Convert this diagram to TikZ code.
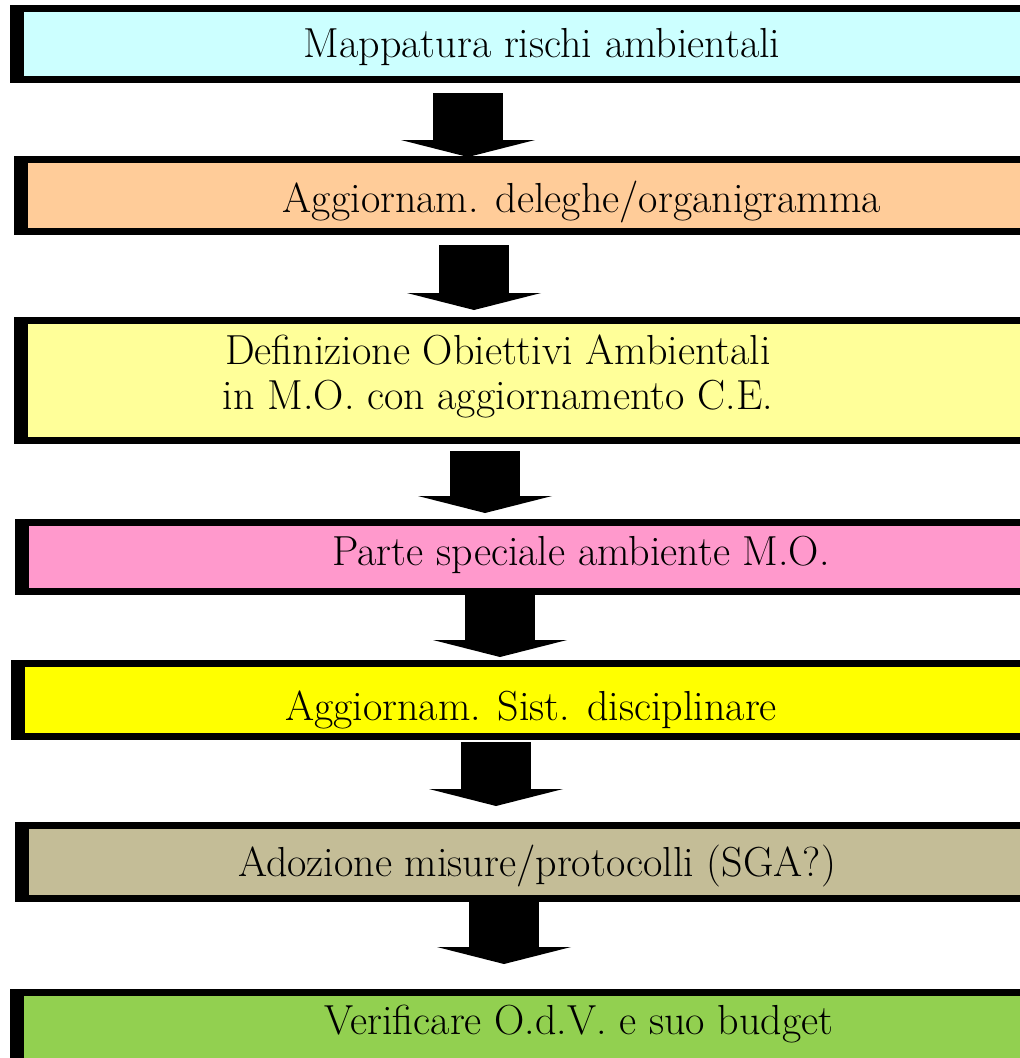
\documentclass[tikz,border=0pt]{standalone}
\usepackage{tikz}
\usetikzlibrary{positioning,arrows.meta,calc}
\definecolor{mapcol}{HTML}{CCFFFF}
\definecolor{delcol}{HTML}{FFCC99}
\definecolor{objcol}{HTML}{FFFF99}
\definecolor{parcol}{HTML}{FF99CC}
\definecolor{discol}{HTML}{FFFF00}
\definecolor{adocol}{HTML}{C4BD97}
\definecolor{vercol}{HTML}{92D050}
\tikzset{
  stage/.style ={rectangle, draw=black, line width=7pt, outer sep=0pt,
                 inner sep=0pt, anchor=north west, minimum width=1030pt,
                 path picture={\fill[black] (path picture bounding box.south west)
                   rectangle ([xshift=10.5pt]path picture bounding box.north west);}},
  lbl/.style   ={anchor=base, align=center, font=\fontsize{42}{45}\selectfont},
  fat/.style   ={-{Triangle[length=17pt, width=134pt, line width=0pt]},
                 line width=70pt, draw=black},
}

\begin{document}
\begin{tikzpicture}[x=1pt, y=-1pt]
  \useasboundingbox[fill=white] (0,0) rectangle (1020,1058);

  % stage boxes
  \node[stage, fill=mapcol, minimum height=71pt]   (b1) at (13.5,8.5) {};
  \node[stage, fill=delcol, minimum height=72.3pt] (b2) at (17.5,159.2) {};
  \node[stage, fill=objcol, minimum height=120pt]  (b3) at (17.5,320.5) {};
  \node[stage, fill=parcol, minimum height=69pt]   (b4) at (18,522.5) {};
  \node[stage, fill=discol, minimum height=73pt]   (b5) at (14.2,663.5) {};
  \node[stage, fill=adocol, minimum height=73pt]   (b6) at (18,825.5) {};
  \node[stage, fill=vercol, minimum height=100pt]  (b7) at (13.5,992.5) {};

  % texts
  \node[lbl] (t1) at (542,57)   {Mappatura rischi ambientali};
  \node[lbl] (t2) at (582,212)  {Aggiornam. deleghe/organigramma};
  \node[lbl] (t3) at (498,409)  {Definizione Obiettivi Ambientali\\in M.O. con aggiornamento C.E.};
  \node[lbl] (t4) at (581,565)  {Parte speciale ambiente M.O.};
  \node[lbl] (t5) at (531,720)  {Aggiornam. Sist. disciplinare};
  \node[lbl] (t6) at (537,876)  {Adozione misure/protocolli (SGA?)};
  \node[lbl] (t7) at (579,1034) {Verificare O.d.V. e suo budget};

  % block arrows
  \draw[fat, shorten <=13.5pt, shorten >=2.2pt]  (b1.south -| 468,0) -- (b2.north -| 468,0);
  \draw[fat, shorten <=13.5pt, shorten >=10.5pt] (b2.south -| 474,0) -- (b3.north -| 474,0);
  \draw[fat, shorten <=10.5pt, shorten >=9.5pt]  (b3.south -| 485,0) -- (b4.north -| 485,0);
  \draw[fat, shorten <=3.5pt, shorten >=6.5pt]   (b4.south -| 500,0) -- (b5.north -| 500,0);
  \draw[fat, shorten <=5.5pt, shorten >=19.5pt]  (b5.south -| 496,0) -- (b6.north -| 496,0);
  \draw[fat, shorten <=3.5pt, shorten >=28.5pt]  (b6.south -| 504,0) -- (b7.north -| 504,0);
\end{tikzpicture}
\end{document}
